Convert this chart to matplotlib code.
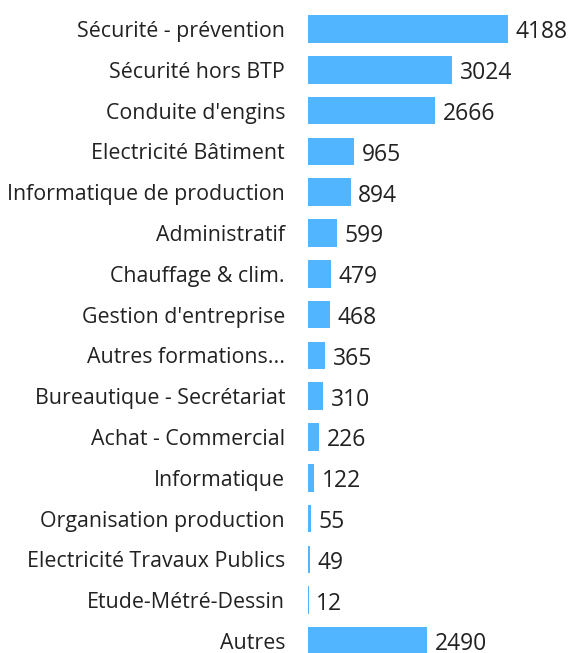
import matplotlib
matplotlib.use("Agg")
import matplotlib.pyplot as plt

plt.rcParams['font.family'] = ['Open Sans', 'DejaVu Sans']

# data
categories = ["Sécurité - prévention", "Sécurité hors BTP", "Conduite d'engins",
              "Electricité Bâtiment", "Informatique de production", "Administratif",
              "Chauffage & clim.", "Gestion d'entreprise", "Autres formations...",
              "Bureautique - Secrétariat", "Achat - Commercial", "Informatique",
              "Organisation production", "Electricité Travaux Publics",
              "Etude-Métré-Dessin", "Autres"]
values = [4188, 3024, 2666, 965, 894, 599, 479, 468, 365, 310, 226, 122, 55, 49, 12, 2490]

bar_color = "#52B5FF"
text_color = "#222222"

fig = plt.figure(figsize=(5.72, 6.53), dpi=100)
ax = fig.add_axes([308 / 572, 0, 1 - 308 / 572, 1])

pos = list(range(len(categories)))
ax.barh(pos, values, height=0.68, color=bar_color)

ax.set_xlim(0, 264 / 0.04776)
ax.set_ylim((653 - 29) / 40.8, -29 / 40.8)

ax.set_yticks(pos)
ax.set_yticklabels(categories, fontsize=15.4, color=text_color)
ax.tick_params(axis='y', length=0, pad=16.5)
ax.set_xticks([])
for s in ax.spines.values():
    s.set_visible(False)

for p, v in zip(pos, values):
    ax.annotate(str(v), xy=(v, p), xytext=(5.5, -2.5), textcoords="offset points",
                va="center", ha="left", fontsize=16.5, color=text_color)

fig.savefig("out.png", dpi=100)
